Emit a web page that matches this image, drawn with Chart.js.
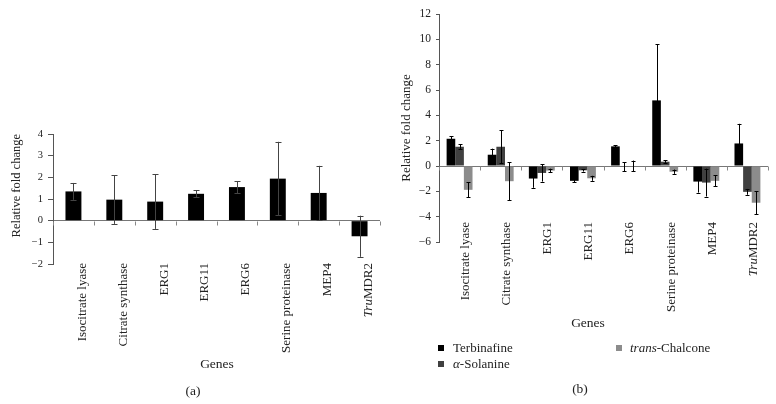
<!DOCTYPE html>
<html>
<head>
<meta charset="utf-8">
<script src="https://cdn.jsdelivr.net/npm/chart.js@4.4.0/dist/chart.umd.min.js"></script>
<style>
    body { margin: 0; background: #fff; }
    #wrap { position: relative; width: 776px; height: 404px; font-family: 'Liberation Serif', serif; color: #222; }
    .panel { position: absolute; top: 0; width: 388px; height: 404px; }
    .txt { position: absolute; font-size: 13.5px; white-space: nowrap; transform: translate(-50%, -50%); }
    .leg { position: absolute; font-size: 13px; white-space: nowrap; transform: translateY(-50%); }
    .sq { position: absolute; width: 6px; height: 6px; transform: translateY(-50%); }
</style>
</head>
<body>
<div id="wrap">
    <div class="panel" style="left:0"><canvas id="chartA" width="388" height="404"></canvas></div>
    <div class="panel" style="left:388px"><canvas id="chartB" width="388" height="404"></canvas></div>

    <div class="txt" style="left:217px; top:364px">Genes</div>
    <div class="txt" style="left:193px; top:391px">(a)</div>
    <div class="txt" style="left:588px; top:323px">Genes</div>
    <div class="txt" style="left:580px; top:389px">(b)</div>

    <div class="sq" style="left:438px; top:348px; background:#000"></div>
    <div class="leg" style="left:453px; top:348px">Terbinafine</div>
    <div class="sq" style="left:438px; top:364px; background:#404040"></div>
    <div class="leg" style="left:453px; top:364px"><i>α</i>-Solanine</div>
    <div class="sq" style="left:616px; top:348px; background:#8c8c8c"></div>
    <div class="leg" style="left:630px; top:348px"><i>trans</i>-Chalcone</div>
</div>
<script>
// gene names (x categories), the italic part of a name is listed separately
const genes = ['Isocitrate lyase', 'Citrate synthase', 'ERG1', 'ERG11', 'ERG6', 'Serine proteinase', 'MEP4', 'TruMDR2'];
const italicPrefix = { 'TruMDR2': 'Tru' };

// panel (a)
const foldA = [1.35, 0.97, 0.88, 1.24, 1.55, 1.94, 1.28, -0.72];
const errA = [0.39, 1.12, 1.26, 0.17, 0.28, 1.70, 1.25, 0.95];
const ticksA = [-2, -1, 0, 1, 2, 3, 4];

// panel (b)
const terbinafine = [2.15, 0.89, -0.99, -1.17, 1.55, 5.18, -1.23, 1.78];
const terbinafineErr = [0.20, 0.48, 0.73, 0.13, 0.08, 4.42, 0.87, 1.55];
const solanine = [1.52, 1.52, -0.55, -0.34, -0.05, 0.34, -1.31, -2.04];
const solanineErr = [0.18, 1.30, 0.68, 0.10, 0.36, 0.10, 1.10, 0.23];
const chalcone = [-1.88, -1.20, -0.36, -0.97, 0, -0.45, -1.17, -2.90];
const chalconeErr = [0.58, 1.50, 0.15, 0.20, 0.43, 0.17, 0.42, 0.90];
const ticksB = [-6, -4, -2, 0, 2, 4, 6, 8, 10, 12];

const SERIF = "'Liberation Serif', serif";

// error bars, drawn from the y scale of each chart
const errorBars = {
    id: 'errorBars',
    afterDatasetsDraw(chart, args, opts) {
        const ctx = chart.ctx;
        const ys = chart.scales.y;
        ctx.save();
        ctx.strokeStyle = opts.color;
        ctx.lineWidth = 1;
        chart.data.datasets.forEach((ds, di) => {
            const meta = chart.getDatasetMeta(di);
            meta.data.forEach((bar, i) => {
                const v = ds.data[i], e = ds.errors[i];
                const x = Math.round(bar.x) + 0.5;
                const y1 = ys.getPixelForValue(v + e);
                const y2 = ys.getPixelForValue(v - e);
                ctx.beginPath();
                ctx.moveTo(x, y1); ctx.lineTo(x, y2);
                ctx.moveTo(x - opts.cap, Math.round(y1) + 0.5); ctx.lineTo(x + opts.cap, Math.round(y1) + 0.5);
                ctx.moveTo(x - opts.cap, Math.round(y2) + 0.5); ctx.lineTo(x + opts.cap, Math.round(y2) + 0.5);
                ctx.stroke();
            });
        });
        ctx.restore();
    }
};

// vertical gene labels under the plot + small tick marks on the zero line
const geneLabels = {
    id: 'geneLabels',
    afterDraw(chart, args, opts) {
        const ctx = chart.ctx;
        const xs = chart.scales.x, ys = chart.scales.y;
        const y0 = Math.round(ys.getPixelForValue(0)) + 0.5;
        ctx.save();
        ctx.strokeStyle = '#888';
        ctx.lineWidth = 1;
        ctx.beginPath();
        for (let i = 0; i <= genes.length; i++) {
            const x = Math.round(xs.getPixelForValue(i - 0.5)) + 0.5;
            ctx.moveTo(x, y0); ctx.lineTo(x, y0 + 4);
        }
        ctx.stroke();

        ctx.fillStyle = '#222';
        ctx.textBaseline = 'middle';
        ctx.textAlign = 'left';
        genes.forEach((g, i) => {
            const x = xs.getPixelForValue(i) + opts.dx;
            const pre = italicPrefix[g] || '';
            const rest = g.slice(pre.length);
            ctx.save();
            ctx.translate(x, opts.top);
            ctx.rotate(-Math.PI / 2);
            ctx.font = 'italic ' + opts.size + 'px ' + SERIF;
            const w1 = ctx.measureText(pre).width;
            ctx.font = opts.size + 'px ' + SERIF;
            const w2 = ctx.measureText(rest).width;
            let start = -(w1 + w2);
            if (pre) {
                ctx.font = 'italic ' + opts.size + 'px ' + SERIF;
                ctx.fillText(pre, start, 0);
            }
            ctx.font = opts.size + 'px ' + SERIF;
            ctx.fillText(rest, start + w1, 0);
            ctx.restore();
        });
        ctx.restore();
    }
};

function yScale(ticks, width, tickLen, fontSize, titleSize, titleAlign, titlePad) {
    return {
        min: ticks[0],
        max: ticks[ticks.length - 1],
        afterBuildTicks: s => { s.ticks = ticks.map(v => ({ value: v })); },
        afterFit: s => { s.width = width; },
        border: { display: true, color: '#555' },
        grid: {
            color: c => (c.tick && c.tick.value === 0 ? '#777' : 'rgba(0,0,0,0)'),
            tickColor: '#555',
            tickLength: tickLen
        },
        ticks: {
            color: '#222',
            padding: 5,
            font: { family: SERIF, size: fontSize },
            callback: v => (v < 0 ? '\u2212' + Math.abs(v) : String(v))
        },
        title: {
            display: true,
            text: 'Relative fold change',
            align: titleAlign,
            color: '#222',
            font: { family: SERIF, size: titleSize },
            padding: { top: titlePad, bottom: 0 }
        }
    };
}

function xScale(height) {
    return {
        type: 'category',
        afterFit: s => { s.height = height; },
        border: { display: false },
        grid: { display: false },
        ticks: { display: false }
    };
}

Chart.defaults.font.family = SERIF;

new Chart(document.getElementById('chartA'), {
    type: 'bar',
    data: {
        labels: genes,
        datasets: [{
            label: 'Fold change',
            data: foldA,
            errors: errA,
            backgroundColor: '#000',
            barPercentage: 0.39,
            categoryPercentage: 1
        }]
    },
    options: {
        responsive: false,
        animation: false,
        layout: { padding: { left: 0, right: 8, top: 134, bottom: 0 } },
        plugins: {
            legend: { display: false },
            tooltip: { enabled: false },
            errorBars: { color: '#444', cap: 3 },
            geneLabels: { top: 263, dx: 9, size: 13 }
        },
        scales: {
            x: xScale(140),
            y: yScale(ticksA, 53, 5, 10.5, 12.5, 'end', 9)
        }
    },
    plugins: [errorBars, geneLabels]
});

new Chart(document.getElementById('chartB'), {
    type: 'bar',
    data: {
        labels: genes,
        datasets: [
            { label: 'Terbinafine', data: terbinafine, errors: terbinafineErr, backgroundColor: '#000' },
            { label: 'α-Solanine', data: solanine, errors: solanineErr, backgroundColor: '#404040' },
            { label: 'trans-Chalcone', data: chalcone, errors: chalconeErr, backgroundColor: '#8c8c8c' }
        ]
    },
    options: {
        responsive: false,
        animation: false,
        datasets: { bar: { barPercentage: 1, categoryPercentage: 0.63 } },
        layout: { padding: { left: 0, right: 8, top: 14, bottom: 0 } },
        plugins: {
            legend: { display: false },
            tooltip: { enabled: false },
            errorBars: { color: '#000', cap: 2 },
            geneLabels: { top: 222, dx: 6, size: 13 }
        },
        scales: {
            x: xScale(162),
            y: yScale(ticksB, 51, 3, 11.5, 13, 'center', 11)
        }
    },
    plugins: [errorBars, geneLabels]
});
</script>
</body>
</html>
